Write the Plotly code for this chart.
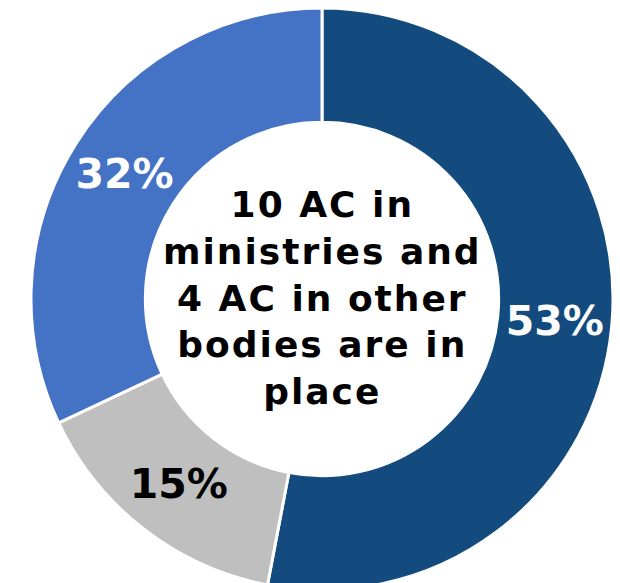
import plotly.graph_objects as go

# Share of advisory councils by status
categories = ["In place", "Other", "Remaining"]
shares = [53, 15, 32]
slice_colors = ["#134B7E", "#BFBFBF", "#4472C4"]
label_colors = ["white", "black", "white"]

center_text = "10 AC in<br>ministries and<br>4 AC in other<br>bodies are in<br>place"

# canvas is slightly taller than the viewport so the ring runs off the bottom edge
W, H = 620, 600
CX, CY, R = 322, 299, 291  # ring centre (px from top-left) and outer radius

fig = go.Figure(
    go.Pie(
        labels=categories,
        values=shares,
        sort=False,
        direction="clockwise",
        rotation=0,
        hole=0.607,
        marker=dict(colors=slice_colors, line=dict(color="white", width=3)),
        texttemplate="%{value}%",
        textposition="inside",
        insidetextorientation="horizontal",
        insidetextfont=dict(family="DejaVu Sans", size=41, color=label_colors, weight="bold"),
        hoverinfo="skip",
        showlegend=False,
        domain=dict(
            x=[(CX - R) / W, (CX + R) / W],
            y=[(H - CY - R) / H, (H - CY + R) / H],
        ),
    )
)

span_open = '<span style="letter-spacing:2px">'
fig.add_annotation(
    x=CX / W,
    y=1 - 298 / H,
    xref="paper",
    yref="paper",
    xanchor="center",
    yanchor="middle",
    showarrow=False,
    text=span_open + center_text.replace("<br>", "</span><br>" + span_open) + "</span>",
    font=dict(family="DejaVu Sans", size=36, color="black", weight="bold"),
    align="center",
)

fig.update_layout(
    width=W,
    height=H,
    margin=dict(l=0, r=0, t=0, b=0),
    paper_bgcolor="white",
    plot_bgcolor="white",
)

fig.write_html(
    "out.html",
    post_script="document.documentElement.style.overflow='hidden';document.body.style.overflow='hidden';",
)
